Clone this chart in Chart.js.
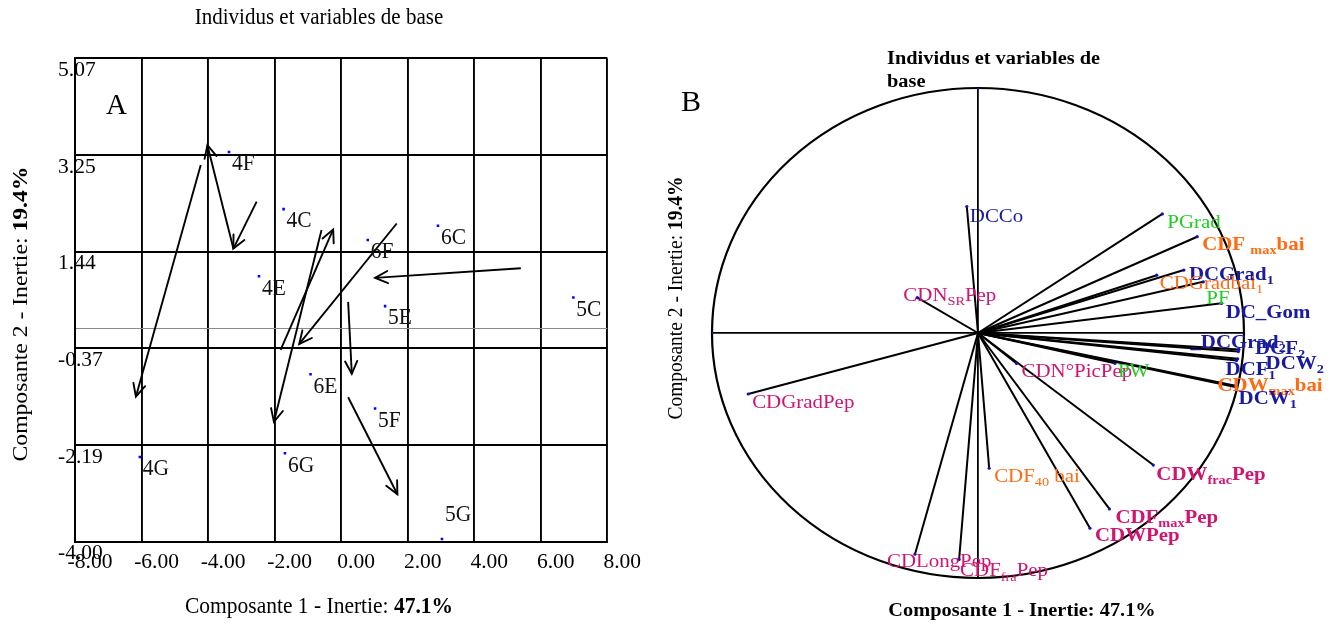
<!DOCTYPE html>
<html><head><meta charset="utf-8">
<script src="https://cdn.jsdelivr.net/npm/chart.js@4.4.1/dist/chart.umd.min.js"></script>
<style>
html,body{margin:0;padding:0;background:#fff;overflow:hidden}
#wrap{position:relative;width:1333px;height:626px;background:#fff}
#ca{position:absolute;left:0;top:0}
#cb{position:absolute;left:660px;top:0}
</style></head><body>
<div id="wrap"><canvas id="ca" width="660" height="626"></canvas><canvas id="cb" width="673" height="626"></canvas></div>
<script>
// ---------- Panel A data ----------
const pointNames = ['4F','4C','4E','6F','6C','5C','5E','6E','5F','6G','5G','4G'];
const pointX = [-3.37,-1.73,-2.47,0.80,2.91,6.98,1.32,-0.92,1.02,-1.69,3.03,-6.05];
const pointY = [3.31,2.24,0.98,1.66,1.93,0.58,0.42,-0.86,-1.50,-2.34,-3.95,-2.41];
const arrowFromX = [-4.22,-3.24,-2.54,-1.82,-0.59,1.67,5.40,0.21,0.21];
const arrowFromY = [3.07,1.50,2.38,-0.40,1.85,1.97,1.13,0.50,-1.29];
const arrowToX = [-6.17,-4.02,-3.24,-0.24,-2.02,-1.26,1.02,0.32,1.69];
const arrowToY = [-1.28,3.44,1.50,1.86,-1.75,-0.29,0.95,-0.85,-3.11];
const xTickValues = [-8,-6,-4,-2,0,2,4,6,8];
const yTickValues = [-4.00,-2.19,-0.37,1.44,3.25,5.07];

// ---------- Panel B data ----------
const varNames = ['DCCo','CDN~{SR}Pep','CDGradPep','PGrad','CDF ~{max}bai','DCGrad~{1}','CDGradbai~{1}','PF','DC_Gom',
  '_DCGrad~{2}','DCF~{2}','DCW~{2}','DCF~{1}','CDW~{max}bai','DCW~{1}','CDN°PicPep','PW','CDF~{40} bai',
  'CDW~{frac}Pep','CDF~{max}Pep','CDWPep','CDLongPep','CDF~{fra}Pep'];
const varX = [-0.042,-0.228,-0.864,0.693,0.824,0.774,0.672,0.847,0.916,
  0.979,0.981,0.976,0.972,0.968,0.972,0.145,0.515,0.042,
  0.659,0.494,0.421,-0.237,-0.071];
const varY = [0.516,0.144,-0.249,0.486,0.393,0.257,0.236,0.209,0.121,
  -0.076,-0.067,-0.105,-0.112,-0.215,-0.222,-0.124,-0.124,-0.552,
  -0.539,-0.718,-0.797,-0.903,-0.924];
const varGroup = ['DC','CDPep','CDPep','P','CDbai','DC','CDbai','P','DC',
  'DC','DC','DC','DC','CDbai','DC','CDPep','P','CDbai',
  'CDPep','CDPep','CDPep','CDPep','CDPep'];
const axisEndX = [-1, 0];
const axisEndY = [0, 1];

// ---------- styles / layout (not data) ----------
const groupColor = {DC:'#1a1aa0', CDPep:'#d0146f', P:'#22cc22', CDbai:'#ff6a13'};
const labelBold = [0,0,0,0,1,1,0,0,1, 1,1,1,1,1,1,0,0,0, 1,1,1,0,0];
const labelDX = [3,-14,4,5,5,5,3,3,4, -48,16,28,-11,-18,2,5,3,5, 3,6,5,-28,1];
const labelDY = [10,-2,9,9,8,5,9,17,10, -9,0,5,10,0,12,9,9,9, 10,9,8,8,12];

const FAM = '"Liberation Serif","Times New Roman",serif';
Chart.defaults.font.family = FAM;

function rich(ctx, parts, x, y, o){
  const size=o.size, sx=o.sx||1, sy=o.sy||1;
  ctx.save();
  ctx.translate(x,y);
  if(o.rot) ctx.rotate(o.rot);
  ctx.scale(sx,sy);
  ctx.textBaseline='middle'; ctx.textAlign='left';
  ctx.fillStyle=o.color||'#000';
  const fonts = parts.map(p=>{const s=p.sub?Math.round(size*0.66):size; return ((p.b||o.bold)?'bold ':'')+s+'px '+FAM;});
  let w=0;
  const ws=parts.map((p,i)=>{ctx.font=fonts[i]; const m=ctx.measureText(p.t).width; w+=m; return m;});
  let cx = o.align==='center' ? -w/2 : (o.align==='right' ? -w : 0);
  parts.forEach((p,i)=>{ctx.font=fonts[i]; ctx.fillText(p.t, cx, p.sub ? size*0.3 : 0); cx+=ws[i];});
  ctx.restore();
}
function parseLabel(s){
  const parts=[]; const re=/~\{([^}]*)\}/g; let last=0,m;
  while((m=re.exec(s))){ if(m.index>last) parts.push({t:s.slice(last,m.index)}); parts.push({t:m[1],sub:true}); last=re.lastIndex; }
  if(last<s.length) parts.push({t:s.slice(last)});
  return parts;
}

// ---------- Panel A ----------
const arrowHeads = {
  id:'arrowHeads',
  afterDatasetsDraw(chart){
    const ctx=chart.ctx, xs=chart.scales.x, ys=chart.scales.y;
    ctx.save(); ctx.strokeStyle='#000'; ctx.lineWidth=1.9; ctx.lineCap='round';
    for(let i=0;i<arrowToX.length;i++){
      const x0=xs.getPixelForValue(arrowFromX[i]), y0=ys.getPixelForValue(arrowFromY[i]);
      const x1=xs.getPixelForValue(arrowToX[i]), y1=ys.getPixelForValue(arrowToY[i]);
      const ang=Math.atan2(y1-y0,x1-x0), L=14, a=0.45;
      ctx.beginPath();
      ctx.moveTo(x1-L*Math.cos(ang-a), y1-L*Math.sin(ang-a));
      ctx.lineTo(x1,y1);
      ctx.lineTo(x1-L*Math.cos(ang+a), y1-L*Math.sin(ang+a));
      ctx.stroke();
    }
    ctx.restore();
  }
};
const textA = {
  id:'textA',
  afterDraw(chart){
    const ctx=chart.ctx, xs=chart.scales.x, ys=chart.scales.y;
    pointNames.forEach((n,i)=>{
      const px=xs.getPixelForValue(pointX[i]), py=ys.getPixelForValue(pointY[i]);
      const off = py > 530 ? -24 : 12;
      rich(ctx,[{t:n}],px+3,py+off,{size:21.5,sy:1.12,color:'#111'});
    });
    rich(ctx,[{t:'Individus et variables de base'}],319,18,{size:21,align:'center',sy:1.05});
    rich(ctx,[{t:'A'}],106,106,{size:29});
    rich(ctx,[{t:'Composante 1 - Inertie: '},{t:'47.1%',b:true}],319,607,{size:21.5,align:'center',sy:1.12});
    rich(ctx,[{t:'Composante 2 - Inertie: '},{t:'19.4%',b:true}],21,314,{size:21.5,align:'center',rot:-Math.PI/2,sx:1.1});
  }
};

const dsA = [{
  data: pointX.map((x,i)=>({x, y:pointY[i]})),
  pointStyle:'rect', pointRadius:1.8, backgroundColor:'#0000ff', borderWidth:0, showLine:false
}];
for(let i=0;i<arrowToX.length;i++){
  dsA.push({data:[{x:arrowFromX[i],y:arrowFromY[i]},{x:arrowToX[i],y:arrowToY[i]}],
    showLine:true, borderColor:'#000', borderWidth:1.9, pointRadius:0});
}

new Chart(document.getElementById('ca'),{
  type:'scatter',
  data:{datasets:dsA},
  options:{
    responsive:false, animation:false, events:[],
    layout:{padding:{left:0,right:52.7,top:58.3,bottom:0}},
    plugins:{legend:{display:false},tooltip:{enabled:false}},
    scales:{
      x:{type:'linear',min:-8,max:8,
        afterBuildTicks:s=>{s.ticks=xTickValues.map(v=>({value:v}));},
        ticks:{font:{size:21.5},color:'#000',padding:8,labelOffset:15,autoSkip:false,maxRotation:0,
          callback:v=>Number(v).toFixed(2)},
        grid:{color:'#000',lineWidth:1.9,drawTicks:false},
        border:{color:'#000',width:1.9},
        afterFit:s=>{s.height=84.3;}},
      y:{type:'linear',min:-4,max:5.07,
        afterBuildTicks:s=>{s.ticks=yTickValues.concat([0]).sort((a,b)=>a-b).map(v=>({value:v}));},
        ticks:{mirror:true,padding:-17,labelOffset:12,font:{size:21.5},color:'#000',autoSkip:false,
          callback:v=>v===0?'':Number(v).toFixed(2)},
        grid:{color:c=>(c.tick&&c.tick.value===0)?'#8a8a8a':'#000',
              lineWidth:c=>(c.tick&&c.tick.value===0)?1:1.9,drawTicks:false},
        border:{color:'#000',width:1.9},
        afterFit:s=>{s.width=75;}}
    }
  },
  plugins:[arrowHeads,textA]
});

// ---------- Panel B ----------
const OX = 660;
const circleB = {
  id:'circleB',
  beforeDatasetsDraw(chart){
    const ctx=chart.ctx, xs=chart.scales.x, ys=chart.scales.y;
    const cx=xs.getPixelForValue(0), cy=ys.getPixelForValue(0);
    const rx=xs.getPixelForValue(1)-cx, ry=cy-ys.getPixelForValue(1);
    ctx.save(); ctx.strokeStyle='#000'; ctx.lineWidth=2.2;
    ctx.beginPath(); ctx.ellipse(cx,cy,rx,ry,0,0,Math.PI*2); ctx.stroke();
    ctx.restore();
  }
};
const textB = {
  id:'textB',
  afterDraw(chart){
    const ctx=chart.ctx, xs=chart.scales.x, ys=chart.scales.y;
    varNames.forEach((n,i)=>{
      const px=xs.getPixelForValue(varX[i]), py=ys.getPixelForValue(varY[i]);
      rich(ctx,parseLabel(n),px+labelDX[i],py+labelDY[i],
        {size:19,sx:1.1,bold:!!labelBold[i],color:groupColor[varGroup[i]]});
    });
    rich(ctx,[{t:'Individus et variables de'}],887-OX,59,{size:18.5,sx:1.1,bold:true});
    rich(ctx,[{t:'base'}],887-OX,82,{size:18.5,sx:1.1,bold:true});
    rich(ctx,[{t:'B'}],681-OX,103,{size:30});
    rich(ctx,[{t:'Composante 1 - Inertie: 47.1%'}],1022-OX,611,{size:18.5,sx:1.1,bold:true,align:'center'});
    rich(ctx,[{t:'Composante 2 - Inertie: '},{t:'19.4%',b:true}],676-OX,298,{size:19.5,align:'center',rot:-Math.PI/2,sy:1.1});
  }
};
const dsB = varNames.map((n,i)=>({
  data:[{x:0,y:0},{x:varX[i],y:varY[i]}],
  showLine:true, borderColor:'#000', borderWidth:2,
  pointRadius:[0,1.6], pointBackgroundColor:'#1010c0', pointBorderWidth:0
}));
dsB.push({data:axisEndX.map((x,i)=>({x,y:axisEndY[i]})),showLine:false,pointRadius:1.6,pointBackgroundColor:'#1010c0',pointBorderWidth:0});

new Chart(document.getElementById('cb'),{
  type:'scatter',
  data:{datasets:dsB},
  options:{
    responsive:false, animation:false, events:[],
    layout:{padding:{left:52,right:89,top:88,bottom:48}},
    plugins:{legend:{display:false},tooltip:{enabled:false}},
    scales:{
      x:{type:'linear',min:-1,max:1,
        afterBuildTicks:s=>{s.ticks=[{value:0}];},
        ticks:{display:false}, grid:{color:'#000',lineWidth:1.8,drawTicks:false}, border:{display:false},
        afterFit:s=>{s.height=0;}},
      y:{type:'linear',min:-1,max:1,
        afterBuildTicks:s=>{s.ticks=[{value:0}];},
        ticks:{display:false}, grid:{color:'#000',lineWidth:1.8,drawTicks:false}, border:{display:false},
        afterFit:s=>{s.width=0;}}
    }
  },
  plugins:[circleB,textB]
});
</script>
</body></html>
